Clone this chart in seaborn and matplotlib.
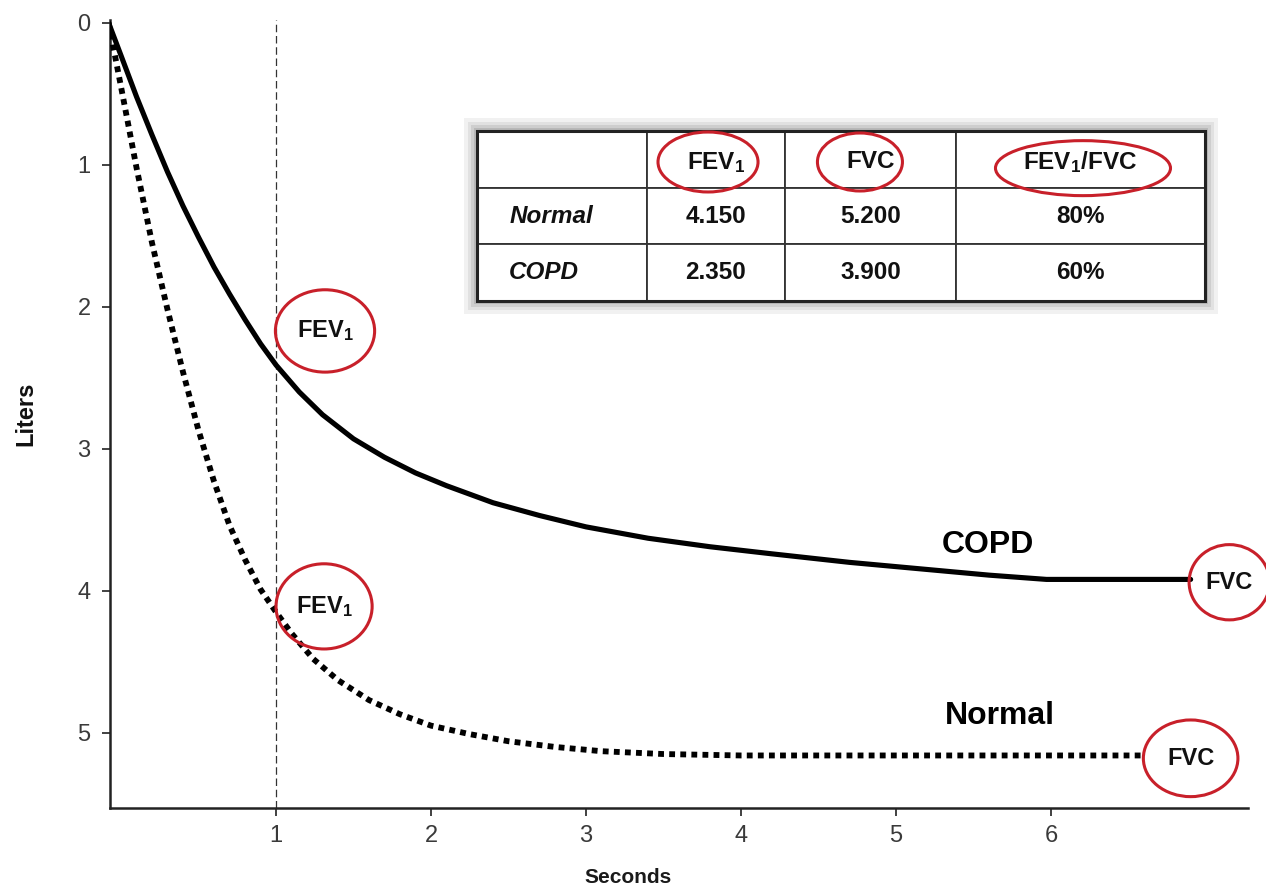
import matplotlib
matplotlib.use('Agg')
import matplotlib.pyplot as plt
from matplotlib.patches import Ellipse, Rectangle
import seaborn as sns
import pandas as pd

# curvas volume-tempo (segundos, litros expirados)
copd_t = [-0.08, 0.00, 0.10, 0.20, 0.30, 0.40, 0.50, 0.60, 0.70, 0.80, 0.90, 1.00, 1.15, 1.30,
          1.50, 1.70, 1.90, 2.10, 2.40, 2.70, 3.00, 3.40, 3.80, 4.20, 4.70, 5.20, 5.60, 5.97, 6.90]
copd_v = [0.00, 0.23, 0.52, 0.79, 1.05, 1.29, 1.51, 1.72, 1.91, 2.09, 2.26, 2.41, 2.60, 2.76,
          2.93, 3.06, 3.17, 3.26, 3.38, 3.47, 3.55, 3.63, 3.69, 3.74, 3.80, 3.85, 3.89, 3.92, 3.92]
normal_t = [-0.08, 0.00, 0.10, 0.20, 0.30, 0.40, 0.50, 0.60, 0.70, 0.80, 0.90, 1.00, 1.10, 1.24,
            1.40, 1.60, 1.80, 2.00, 2.25, 2.50, 2.80, 3.10, 3.50, 4.00, 6.59]
normal_v = [0.00, 0.45, 1.02, 1.55, 2.02, 2.46, 2.87, 3.23, 3.54, 3.78, 3.99, 4.15, 4.30, 4.48,
            4.63, 4.77, 4.87, 4.95, 5.01, 5.06, 5.10, 5.13, 5.15, 5.16, 5.16]

# tabela
groups = ['Normal', 'COPD']
fev1 = [4.150, 2.350]
fvc = [5.200, 3.900]
ratio = [80, 60]
header = ['', r'$\mathbf{FEV}_\mathbf{1}$', 'FVC', r'$\mathbf{FEV}_\mathbf{1}\mathbf{/FVC}$']

x_ticks = [1, 2, 3, 4, 5, 6]
y_ticks = [0, 1, 2, 3, 4, 5]

copd = pd.DataFrame({'Seconds': copd_t, 'Liters': copd_v})
normal = pd.DataFrame({'Seconds': normal_t, 'Liters': normal_v})

sns.set_theme(style='white')
plt.rcParams['font.family'] = ['Liberation Sans', 'DejaVu Sans']
plt.rcParams['mathtext.fontset'] = 'custom'
plt.rcParams['mathtext.rm'] = 'Liberation Sans'
plt.rcParams['mathtext.bf'] = 'Liberation Sans:bold'
plt.rcParams['mathtext.it'] = 'Liberation Sans:italic'

fig = plt.figure(figsize=(12.66, 8.91), dpi=100)
ax = fig.add_axes([110 / 1266, 1 - 808 / 891, 1138 / 1266, 788 / 891])

red = '#c8202a'

# linha vertical em 1 segundo
ax.axvline(1, color='#333333', lw=0.9, ls=(0, (6, 3)), zorder=1)

# curvas
sns.lineplot(data=copd, x='Seconds', y='Liters', ax=ax, color='black', lw=3.7, zorder=3)
sns.lineplot(data=normal, x='Seconds', y='Liters', ax=ax, color='black', lw=4.2,
             linestyle=(0, (1, 0.9)), zorder=3)

ax.set_xlim(-0.071, 7.27)
ax.set_ylim(5.53, -0.02)
ax.set_xticks(x_ticks)
ax.set_yticks(y_ticks)
ax.tick_params(axis='both', which='major', direction='out', length=6, width=1.3,
               color='#333333', labelsize=17, labelcolor='#3a3a3a', bottom=True, left=True)
ax.tick_params(axis='x', pad=6)
ax.tick_params(axis='y', pad=8)
for s in ['top', 'right']:
    ax.spines[s].set_visible(False)
for s in ['left', 'bottom']:
    ax.spines[s].set_color('#222222')
    ax.spines[s].set_linewidth(1.8)

ax.set_xlabel('Seconds', fontsize=15, fontweight='bold', color='#1a1a1a')
ax.xaxis.set_label_coords(0.455, -0.076)
ax.set_ylabel('Liters', fontsize=17, fontweight='bold', color='#111111')
ax.yaxis.set_label_coords(-0.064, 0.5)

# rótulos das curvas
ax.text(5.59, 3.68, 'COPD', fontsize=23, fontweight='bold', ha='center', va='center', color='black')
ax.text(5.67, 4.88, 'Normal', fontsize=23, fontweight='bold', ha='center', va='center', color='black')

# marcações FEV1 / FVC nas curvas
marks = [(1.316, 2.17, 0.64, 0.58, r'$\mathbf{FEV}_\mathbf{1}$'),
         (1.31, 4.11, 0.62, 0.60, r'$\mathbf{FEV}_\mathbf{1}$'),
         (7.15, 3.94, 0.52, 0.53, 'FVC'),
         (6.90, 5.18, 0.61, 0.54, 'FVC')]
for cx, cy, w, h, lab in marks:
    ax.add_patch(Ellipse((cx, cy), w, h, fill=False, ec=red, lw=2.2, clip_on=False, zorder=4))
    ax.text(cx, cy, lab, fontsize=17, fontweight='bold', ha='center', va='center',
            color='#111111', clip_on=False, zorder=5)

# tabela
rows = [[g, f'{a:.3f}', f'{b:.3f}', f'{r}%'] for g, a, b, r in zip(groups, fev1, fvc, ratio)]
tb_x, tb_y, tb_w, tb_h = 0.3225, 0.6434, 0.6397, 0.2157
# sombra
for i, a in enumerate([0.08, 0.10, 0.13, 0.18]):
    d = 0.011 - i * 0.0027
    ax.add_patch(Rectangle((tb_x - d, tb_y - d * 1.45), tb_w + 2 * d, tb_h + 2 * d * 1.45,
                           transform=ax.transAxes, fc='#555555', ec='none', alpha=a, zorder=5))
tab = ax.table(cellText=rows, colLabels=header, colWidths=[170, 138, 171, 249],
               cellLoc='center', bbox=[tb_x, tb_y, tb_w, tb_h])
tab.set_zorder(6)
tab.auto_set_font_size(False)
tab.set_fontsize(17.5)
for (r, c), cell in tab.get_celld().items():
    cell.set_edgecolor('#333333')
    cell.set_linewidth(1.3)
    cell.set_facecolor('white')
    cell.get_text().set_fontweight('bold')
    cell.get_text().set_color('#111111')
    if r == 0:
        cell.get_text().set_va('center_baseline')
    if c == 0 and r > 0:
        cell.get_text().set_fontstyle('italic')
        cell.get_text().set_ha('left')
        cell.PAD = 0.19
ax.add_patch(Rectangle((tb_x, tb_y), tb_w, tb_h, transform=ax.transAxes, fill=False,
                       ec='#222222', lw=2.2, zorder=7))

# elipses do cabeçalho
for cx, cy, w, h in [(0.5255, 0.8198, 0.0879, 0.0761),
                     (0.659, 0.8198, 0.0747, 0.0736),
                     (0.855, 0.812, 0.1538, 0.0698)]:
    ax.add_patch(Ellipse((cx, cy), w, h, transform=ax.transAxes, fill=False, ec=red,
                         lw=2.2, zorder=8))

fig.savefig('out.png', dpi=100)
